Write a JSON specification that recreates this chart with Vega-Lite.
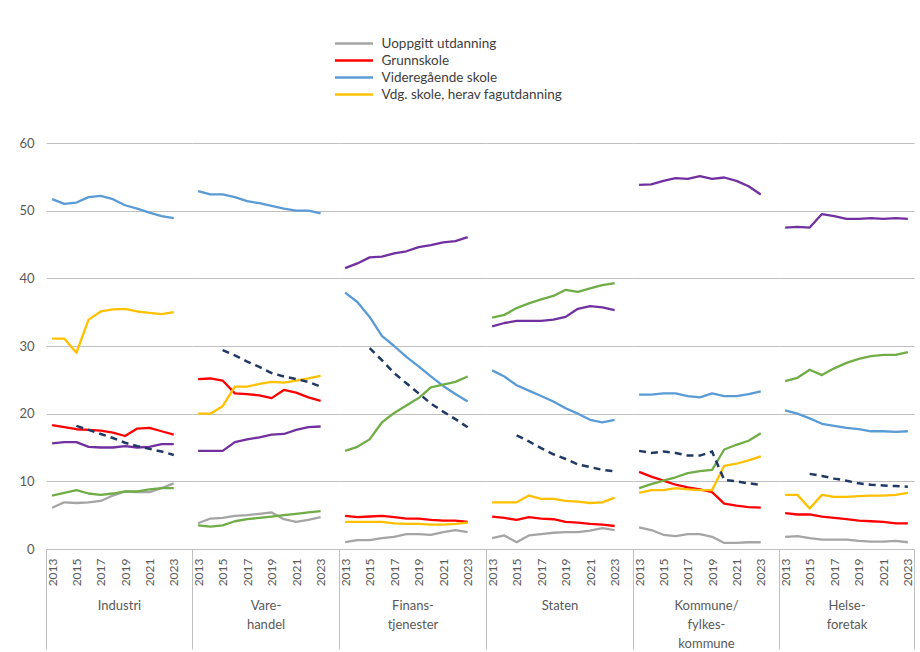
{
"$schema": "https://vega.github.io/schema/vega-lite/v6.json",
"background": "white",
"padding": {"left": 18, "top": 34, "right": 0, "bottom": 0},
"bounds": "flush",
"spacing": 0,
"data": {"values": [
{"s":"Industri","aar":2013,"U":6.1,"G":18.3,"V":51.7,"F":31.1,"K":15.6,"L":7.9},
{"s":"Industri","aar":2014,"U":6.9,"G":18.0,"V":51.0,"F":31.1,"K":15.8,"L":8.3},
{"s":"Industri","aar":2015,"U":6.8,"G":17.7,"V":51.2,"F":29.0,"K":15.8,"L":8.7,"D":18.2},
{"s":"Industri","aar":2016,"U":6.9,"G":17.6,"V":52.0,"F":33.9,"K":15.1,"L":8.2,"D":17.6},
{"s":"Industri","aar":2017,"U":7.1,"G":17.5,"V":52.2,"F":35.1,"K":15.0,"L":8.0,"D":17.0},
{"s":"Industri","aar":2018,"U":7.9,"G":17.2,"V":51.7,"F":35.4,"K":15.0,"L":8.2,"D":16.4},
{"s":"Industri","aar":2019,"U":8.5,"G":16.7,"V":50.8,"F":35.5,"K":15.2,"L":8.5,"D":15.7},
{"s":"Industri","aar":2020,"U":8.4,"G":17.8,"V":50.3,"F":35.1,"K":15.0,"L":8.5,"D":15.2},
{"s":"Industri","aar":2021,"U":8.4,"G":17.9,"V":49.7,"F":34.9,"K":15.1,"L":8.8,"D":14.8},
{"s":"Industri","aar":2022,"U":9.0,"G":17.4,"V":49.2,"F":34.7,"K":15.5,"L":9.0,"D":14.4},
{"s":"Industri","aar":2023,"U":9.7,"G":16.9,"V":48.9,"F":35.0,"K":15.5,"L":9.0,"D":13.9},
{"s":"Varehandel","aar":2013,"U":3.8,"G":25.1,"V":52.9,"F":20.0,"K":14.5,"L":3.5},
{"s":"Varehandel","aar":2014,"U":4.5,"G":25.2,"V":52.4,"F":20.0,"K":14.5,"L":3.3},
{"s":"Varehandel","aar":2015,"U":4.6,"G":24.9,"V":52.4,"F":21.1,"K":14.5,"L":3.5,"D":29.4},
{"s":"Varehandel","aar":2016,"U":4.9,"G":23.0,"V":52.0,"F":24.0,"K":15.8,"L":4.1,"D":28.6},
{"s":"Varehandel","aar":2017,"U":5.0,"G":22.9,"V":51.4,"F":24.0,"K":16.2,"L":4.4,"D":27.7},
{"s":"Varehandel","aar":2018,"U":5.2,"G":22.7,"V":51.1,"F":24.4,"K":16.5,"L":4.6,"D":26.9},
{"s":"Varehandel","aar":2019,"U":5.4,"G":22.3,"V":50.7,"F":24.7,"K":16.9,"L":4.8,"D":26.0},
{"s":"Varehandel","aar":2020,"U":4.4,"G":23.5,"V":50.3,"F":24.6,"K":17.0,"L":5.0,"D":25.5},
{"s":"Varehandel","aar":2021,"U":4.0,"G":23.1,"V":50.0,"F":24.9,"K":17.6,"L":5.2,"D":25.1},
{"s":"Varehandel","aar":2022,"U":4.3,"G":22.4,"V":50.0,"F":25.2,"K":18.0,"L":5.4,"D":24.7},
{"s":"Varehandel","aar":2023,"U":4.7,"G":21.9,"V":49.6,"F":25.6,"K":18.1,"L":5.6,"D":24.0},
{"s":"Finans","aar":2013,"U":1.0,"G":4.9,"V":37.9,"F":4.0,"K":41.5,"L":14.5},
{"s":"Finans","aar":2014,"U":1.3,"G":4.7,"V":36.5,"F":4.0,"K":42.2,"L":15.1},
{"s":"Finans","aar":2015,"U":1.3,"G":4.8,"V":34.3,"F":4.0,"K":43.1,"L":16.2,"D":29.7},
{"s":"Finans","aar":2016,"U":1.6,"G":4.9,"V":31.5,"F":4.0,"K":43.2,"L":18.7,"D":27.9},
{"s":"Finans","aar":2017,"U":1.8,"G":4.7,"V":30.0,"F":3.8,"K":43.7,"L":20.1,"D":26.0},
{"s":"Finans","aar":2018,"U":2.2,"G":4.5,"V":28.4,"F":3.7,"K":44.0,"L":21.2,"D":24.5},
{"s":"Finans","aar":2019,"U":2.2,"G":4.5,"V":27.0,"F":3.7,"K":44.6,"L":22.3,"D":23.0},
{"s":"Finans","aar":2020,"U":2.1,"G":4.3,"V":25.5,"F":3.6,"K":44.9,"L":23.9,"D":21.5},
{"s":"Finans","aar":2021,"U":2.5,"G":4.2,"V":24.1,"F":3.6,"K":45.3,"L":24.3,"D":20.3},
{"s":"Finans","aar":2022,"U":2.8,"G":4.2,"V":22.9,"F":3.7,"K":45.5,"L":24.7,"D":19.2},
{"s":"Finans","aar":2023,"U":2.5,"G":4.0,"V":21.8,"F":3.9,"K":46.1,"L":25.5,"D":18.0},
{"s":"Staten","aar":2013,"U":1.6,"G":4.8,"V":26.4,"F":6.9,"K":32.9,"L":34.2},
{"s":"Staten","aar":2014,"U":2.0,"G":4.6,"V":25.5,"F":6.9,"K":33.4,"L":34.6},
{"s":"Staten","aar":2015,"U":1.0,"G":4.3,"V":24.2,"F":6.9,"K":33.7,"L":35.6,"D":16.8},
{"s":"Staten","aar":2016,"U":2.0,"G":4.7,"V":23.4,"F":7.9,"K":33.7,"L":36.3,"D":15.9},
{"s":"Staten","aar":2017,"U":2.2,"G":4.5,"V":22.6,"F":7.4,"K":33.7,"L":36.9,"D":14.9},
{"s":"Staten","aar":2018,"U":2.4,"G":4.4,"V":21.8,"F":7.4,"K":33.9,"L":37.4,"D":14.0},
{"s":"Staten","aar":2019,"U":2.5,"G":4.0,"V":20.8,"F":7.1,"K":34.3,"L":38.3,"D":13.3},
{"s":"Staten","aar":2020,"U":2.5,"G":3.9,"V":20.0,"F":7.0,"K":35.5,"L":38.0,"D":12.5},
{"s":"Staten","aar":2021,"U":2.7,"G":3.7,"V":19.1,"F":6.8,"K":35.9,"L":38.5,"D":12.1},
{"s":"Staten","aar":2022,"U":3.1,"G":3.6,"V":18.7,"F":6.9,"K":35.7,"L":39.0,"D":11.7},
{"s":"Staten","aar":2023,"U":2.8,"G":3.4,"V":19.1,"F":7.6,"K":35.3,"L":39.3,"D":11.5},
{"s":"Kommune","aar":2013,"U":3.2,"G":11.4,"V":22.8,"F":8.3,"K":53.8,"L":9.0,"D":14.5},
{"s":"Kommune","aar":2014,"U":2.8,"G":10.7,"V":22.8,"F":8.7,"K":53.9,"L":9.6,"D":14.2},
{"s":"Kommune","aar":2015,"U":2.1,"G":10.1,"V":23.0,"F":8.7,"K":54.4,"L":10.1,"D":14.4},
{"s":"Kommune","aar":2016,"U":1.9,"G":9.5,"V":23.0,"F":9.0,"K":54.8,"L":10.6,"D":14.2},
{"s":"Kommune","aar":2017,"U":2.2,"G":9.1,"V":22.6,"F":8.8,"K":54.7,"L":11.2,"D":13.8},
{"s":"Kommune","aar":2018,"U":2.2,"G":8.8,"V":22.4,"F":8.7,"K":55.1,"L":11.5,"D":13.8},
{"s":"Kommune","aar":2019,"U":1.8,"G":8.4,"V":23.0,"F":8.7,"K":54.7,"L":11.7,"D":14.4},
{"s":"Kommune","aar":2020,"U":0.9,"G":6.7,"V":22.6,"F":12.3,"K":54.9,"L":14.7,"D":10.2},
{"s":"Kommune","aar":2021,"U":0.9,"G":6.4,"V":22.6,"F":12.6,"K":54.4,"L":15.4,"D":10.0},
{"s":"Kommune","aar":2022,"U":1.0,"G":6.2,"V":22.9,"F":13.1,"K":53.6,"L":16.0,"D":9.7},
{"s":"Kommune","aar":2023,"U":1.0,"G":6.1,"V":23.3,"F":13.7,"K":52.4,"L":17.1,"D":9.5},
{"s":"Helse","aar":2013,"U":1.8,"G":5.3,"V":20.5,"F":8.0,"K":47.5,"L":24.8},
{"s":"Helse","aar":2014,"U":1.9,"G":5.1,"V":20.0,"F":8.0,"K":47.6,"L":25.3},
{"s":"Helse","aar":2015,"U":1.6,"G":5.1,"V":19.3,"F":6.0,"K":47.5,"L":26.5,"D":11.1},
{"s":"Helse","aar":2016,"U":1.4,"G":4.8,"V":18.5,"F":8.0,"K":49.5,"L":25.7,"D":10.8},
{"s":"Helse","aar":2017,"U":1.4,"G":4.6,"V":18.2,"F":7.7,"K":49.2,"L":26.7,"D":10.4},
{"s":"Helse","aar":2018,"U":1.4,"G":4.4,"V":17.9,"F":7.7,"K":48.8,"L":27.5,"D":10.1},
{"s":"Helse","aar":2019,"U":1.2,"G":4.2,"V":17.7,"F":7.8,"K":48.8,"L":28.1,"D":9.7},
{"s":"Helse","aar":2020,"U":1.1,"G":4.1,"V":17.4,"F":7.9,"K":48.9,"L":28.5,"D":9.5},
{"s":"Helse","aar":2021,"U":1.1,"G":4.0,"V":17.4,"F":7.9,"K":48.8,"L":28.7,"D":9.4},
{"s":"Helse","aar":2022,"U":1.2,"G":3.8,"V":17.3,"F":8.0,"K":48.9,"L":28.7,"D":9.3},
{"s":"Helse","aar":2023,"U":1.0,"G":3.8,"V":17.4,"F":8.3,"K":48.8,"L":29.1,"D":9.2}
]},
"resolve": {"scale": {"color": "shared"}},
"hconcat": [
{"width": 146, "height": 406,
 "transform": [{"filter": "datum.s == 'Industri'"}, {"fold": ["U","G","V","F","K","L","D"], "as": ["serie","verdi"]}],
 "encoding": {
  "x": {"field": "aar", "type": "quantitative", "scale": {"domain": [2012.5, 2024.5], "nice": false, "zero": false},
        "axis": {"values": [2012.5,2013,2015,2017,2019,2021,2023], "title": ["Industri"], "tickOpacity": {"condition": {"test": "datum.value == 2012.5 || datum.value == 2023.5", "value": 1}, "value": 0}}},
  "y": {"field": "verdi", "type": "quantitative", "scale": {"domain": [0, 60], "nice": false}, "axis": {"values": [0,10,20,30,40,50,60], "title": null}}
 },
 "layer": [
  {"transform": [{"filter": "datum.serie != 'D'"}], "mark": {"type": "line", "strokeWidth": 2.3, "strokeJoin": "round"},
   "encoding": {"color": {"field": "serie", "type": "nominal", "scale": {"domain": ["U","G","V","F","K","L"], "range": ["#a5a5a5","#ff0000","#5b9bd5","#ffc000","#7030a0","#70ad47"]},
     "legend": {"values": ["U","G","V","F"], "labelExpr": "datum.value == 'U' ? 'Uoppgitt utdanning' : datum.value == 'G' ? 'Grunnskole' : datum.value == 'V' ? 'Videregående skole' : 'Vdg. skole, herav fagutdanning'"}}}},
  {"transform": [{"filter": "datum.serie == 'D'"}], "mark": {"type": "line", "strokeWidth": 2.5, "strokeDash": [7,5], "color": "#1f3864"}, "encoding": {}}
 ]},
{"width": 147, "height": 406,
 "transform": [{"filter": "datum.s == 'Varehandel'"}, {"fold": ["U","G","V","F","K","L","D"], "as": ["serie","verdi"]}],
 "encoding": {
  "x": {"field": "aar", "type": "quantitative", "scale": {"domain": [2012.5, 2024.5], "nice": false, "zero": false},
        "axis": {"values": [2012.5,2013,2015,2017,2019,2021,2023], "title": ["Vare-","handel"], "tickOpacity": {"condition": {"test": "datum.value == 2012.5 || datum.value == 2023.5", "value": 1}, "value": 0}}},
  "y": {"field": "verdi", "type": "quantitative", "scale": {"domain": [0, 60], "nice": false}, "axis": {"values": [0,10,20,30,40,50,60], "title": null, "labels": false}}
 },
 "layer": [
  {"transform": [{"filter": "datum.serie != 'D'"}], "mark": {"type": "line", "strokeWidth": 2.3, "strokeJoin": "round"},
   "encoding": {"color": {"field": "serie", "type": "nominal", "scale": {"domain": ["U","G","V","F","K","L"], "range": ["#a5a5a5","#ff0000","#5b9bd5","#ffc000","#7030a0","#70ad47"]},
     "legend": {"values": ["U","G","V","F"], "labelExpr": "datum.value == 'U' ? 'Uoppgitt utdanning' : datum.value == 'G' ? 'Grunnskole' : datum.value == 'V' ? 'Videregående skole' : 'Vdg. skole, herav fagutdanning'"}}}},
  {"transform": [{"filter": "datum.serie == 'D'"}], "mark": {"type": "line", "strokeWidth": 2.5, "strokeDash": [7,5], "color": "#1f3864"}, "encoding": {}}
 ]},
{"width": 147, "height": 406,
 "transform": [{"filter": "datum.s == 'Finans'"}, {"fold": ["U","G","V","F","K","L","D"], "as": ["serie","verdi"]}],
 "encoding": {
  "x": {"field": "aar", "type": "quantitative", "scale": {"domain": [2012.5, 2024.5], "nice": false, "zero": false},
        "axis": {"values": [2012.5,2013,2015,2017,2019,2021,2023], "title": ["Finans-","tjenester"], "tickOpacity": {"condition": {"test": "datum.value == 2012.5 || datum.value == 2023.5", "value": 1}, "value": 0}}},
  "y": {"field": "verdi", "type": "quantitative", "scale": {"domain": [0, 60], "nice": false}, "axis": {"values": [0,10,20,30,40,50,60], "title": null, "labels": false}}
 },
 "layer": [
  {"transform": [{"filter": "datum.serie != 'D'"}], "mark": {"type": "line", "strokeWidth": 2.3, "strokeJoin": "round"},
   "encoding": {"color": {"field": "serie", "type": "nominal", "scale": {"domain": ["U","G","V","F","K","L"], "range": ["#a5a5a5","#ff0000","#5b9bd5","#ffc000","#7030a0","#70ad47"]},
     "legend": {"values": ["U","G","V","F"], "labelExpr": "datum.value == 'U' ? 'Uoppgitt utdanning' : datum.value == 'G' ? 'Grunnskole' : datum.value == 'V' ? 'Videregående skole' : 'Vdg. skole, herav fagutdanning'"}}}},
  {"transform": [{"filter": "datum.serie == 'D'"}], "mark": {"type": "line", "strokeWidth": 2.5, "strokeDash": [7,5], "color": "#1f3864"}, "encoding": {}}
 ]},
{"width": 147, "height": 406,
 "transform": [{"filter": "datum.s == 'Staten'"}, {"fold": ["U","G","V","F","K","L","D"], "as": ["serie","verdi"]}],
 "encoding": {
  "x": {"field": "aar", "type": "quantitative", "scale": {"domain": [2012.5, 2024.5], "nice": false, "zero": false},
        "axis": {"values": [2012.5,2013,2015,2017,2019,2021,2023], "title": ["Staten"], "tickOpacity": {"condition": {"test": "datum.value == 2012.5 || datum.value == 2023.5", "value": 1}, "value": 0}}},
  "y": {"field": "verdi", "type": "quantitative", "scale": {"domain": [0, 60], "nice": false}, "axis": {"values": [0,10,20,30,40,50,60], "title": null, "labels": false}}
 },
 "layer": [
  {"transform": [{"filter": "datum.serie != 'D'"}], "mark": {"type": "line", "strokeWidth": 2.3, "strokeJoin": "round"},
   "encoding": {"color": {"field": "serie", "type": "nominal", "scale": {"domain": ["U","G","V","F","K","L"], "range": ["#a5a5a5","#ff0000","#5b9bd5","#ffc000","#7030a0","#70ad47"]},
     "legend": {"values": ["U","G","V","F"], "labelExpr": "datum.value == 'U' ? 'Uoppgitt utdanning' : datum.value == 'G' ? 'Grunnskole' : datum.value == 'V' ? 'Videregående skole' : 'Vdg. skole, herav fagutdanning'"}}}},
  {"transform": [{"filter": "datum.serie == 'D'"}], "mark": {"type": "line", "strokeWidth": 2.5, "strokeDash": [7,5], "color": "#1f3864"}, "encoding": {}}
 ]},
{"width": 146, "height": 406,
 "transform": [{"filter": "datum.s == 'Kommune'"}, {"fold": ["U","G","V","F","K","L","D"], "as": ["serie","verdi"]}],
 "encoding": {
  "x": {"field": "aar", "type": "quantitative", "scale": {"domain": [2012.5, 2024.5], "nice": false, "zero": false},
        "axis": {"values": [2012.5,2013,2015,2017,2019,2021,2023], "title": ["Kommune/","fylkes-","kommune"], "tickOpacity": {"condition": {"test": "datum.value == 2012.5 || datum.value == 2023.5", "value": 1}, "value": 0}}},
  "y": {"field": "verdi", "type": "quantitative", "scale": {"domain": [0, 60], "nice": false}, "axis": {"values": [0,10,20,30,40,50,60], "title": null, "labels": false}}
 },
 "layer": [
  {"transform": [{"filter": "datum.serie != 'D'"}], "mark": {"type": "line", "strokeWidth": 2.3, "strokeJoin": "round"},
   "encoding": {"color": {"field": "serie", "type": "nominal", "scale": {"domain": ["U","G","V","F","K","L"], "range": ["#a5a5a5","#ff0000","#5b9bd5","#ffc000","#7030a0","#70ad47"]},
     "legend": {"values": ["U","G","V","F"], "labelExpr": "datum.value == 'U' ? 'Uoppgitt utdanning' : datum.value == 'G' ? 'Grunnskole' : datum.value == 'V' ? 'Videregående skole' : 'Vdg. skole, herav fagutdanning'"}}}},
  {"transform": [{"filter": "datum.serie == 'D'"}], "mark": {"type": "line", "strokeWidth": 2.5, "strokeDash": [7,5], "color": "#1f3864"}, "encoding": {}}
 ]},
{"width": 135, "height": 406,
 "transform": [{"filter": "datum.s == 'Helse'"}, {"fold": ["U","G","V","F","K","L","D"], "as": ["serie","verdi"]}],
 "encoding": {
  "x": {"field": "aar", "type": "quantitative", "scale": {"domain": [2012.5, 2023.5], "nice": false, "zero": false},
        "axis": {"values": [2012.5,2013,2015,2017,2019,2021,2023,2023.5], "title": ["Helse-","foretak"], "tickOpacity": {"condition": {"test": "datum.value == 2012.5 || datum.value == 2023.5", "value": 1}, "value": 0}}},
  "y": {"field": "verdi", "type": "quantitative", "scale": {"domain": [0, 60], "nice": false}, "axis": {"values": [0,10,20,30,40,50,60], "title": null, "labels": false}}
 },
 "layer": [
  {"transform": [{"filter": "datum.serie != 'D'"}], "mark": {"type": "line", "strokeWidth": 2.3, "strokeJoin": "round"},
   "encoding": {"color": {"field": "serie", "type": "nominal", "scale": {"domain": ["U","G","V","F","K","L"], "range": ["#a5a5a5","#ff0000","#5b9bd5","#ffc000","#7030a0","#70ad47"]},
     "legend": {"values": ["U","G","V","F"], "labelExpr": "datum.value == 'U' ? 'Uoppgitt utdanning' : datum.value == 'G' ? 'Grunnskole' : datum.value == 'V' ? 'Videregående skole' : 'Vdg. skole, herav fagutdanning'"}}}},
  {"transform": [{"filter": "datum.serie == 'D'"}], "mark": {"type": "line", "strokeWidth": 2.5, "strokeDash": [7,5], "color": "#1f3864"}, "encoding": {}}
 ]}
],
"config": {
 "font": "Lato",
 "view": {"stroke": null},
 "axisX": {"grid": false, "tickSize": 100, "tickColor": "#bfbfbf", "tickWidth": 1, "domainColor": "#bfbfbf", "domainWidth": 1,
   "labelAngle": -90, "labelPadding": -91, "labelFontSize": 12, "labelColor": "#595959", "labelOverlap": false, "labelFlush": false,
   "labelExpr": "datum.value % 1 == 0 ? toString(datum.value) : ''",
   "titleY": 50, "titleBaseline": "top", "titleFontSize": 13, "titleFontWeight": "normal", "titleColor": "#595959", "titleLineHeight": 19},
 "axisY": {"grid": true, "gridColor": "#bfbfbf", "gridWidth": 1, "domain": false, "ticks": false, "labelPadding": 12, "labelFontSize": 13, "labelColor": "#595959"},
 "legend": {"orient": "none", "legendX": 298.5, "legendY": -109, "title": null, "symbolType": "M-2.375,0H2.375", "symbolSize": 256, "symbolStrokeWidth": 2.5,
   "labelFontSize": 13.5, "labelColor": "#404040", "rowPadding": 1, "labelOffset": 18, "labelLimit": 400, "padding": 0}
}
}
